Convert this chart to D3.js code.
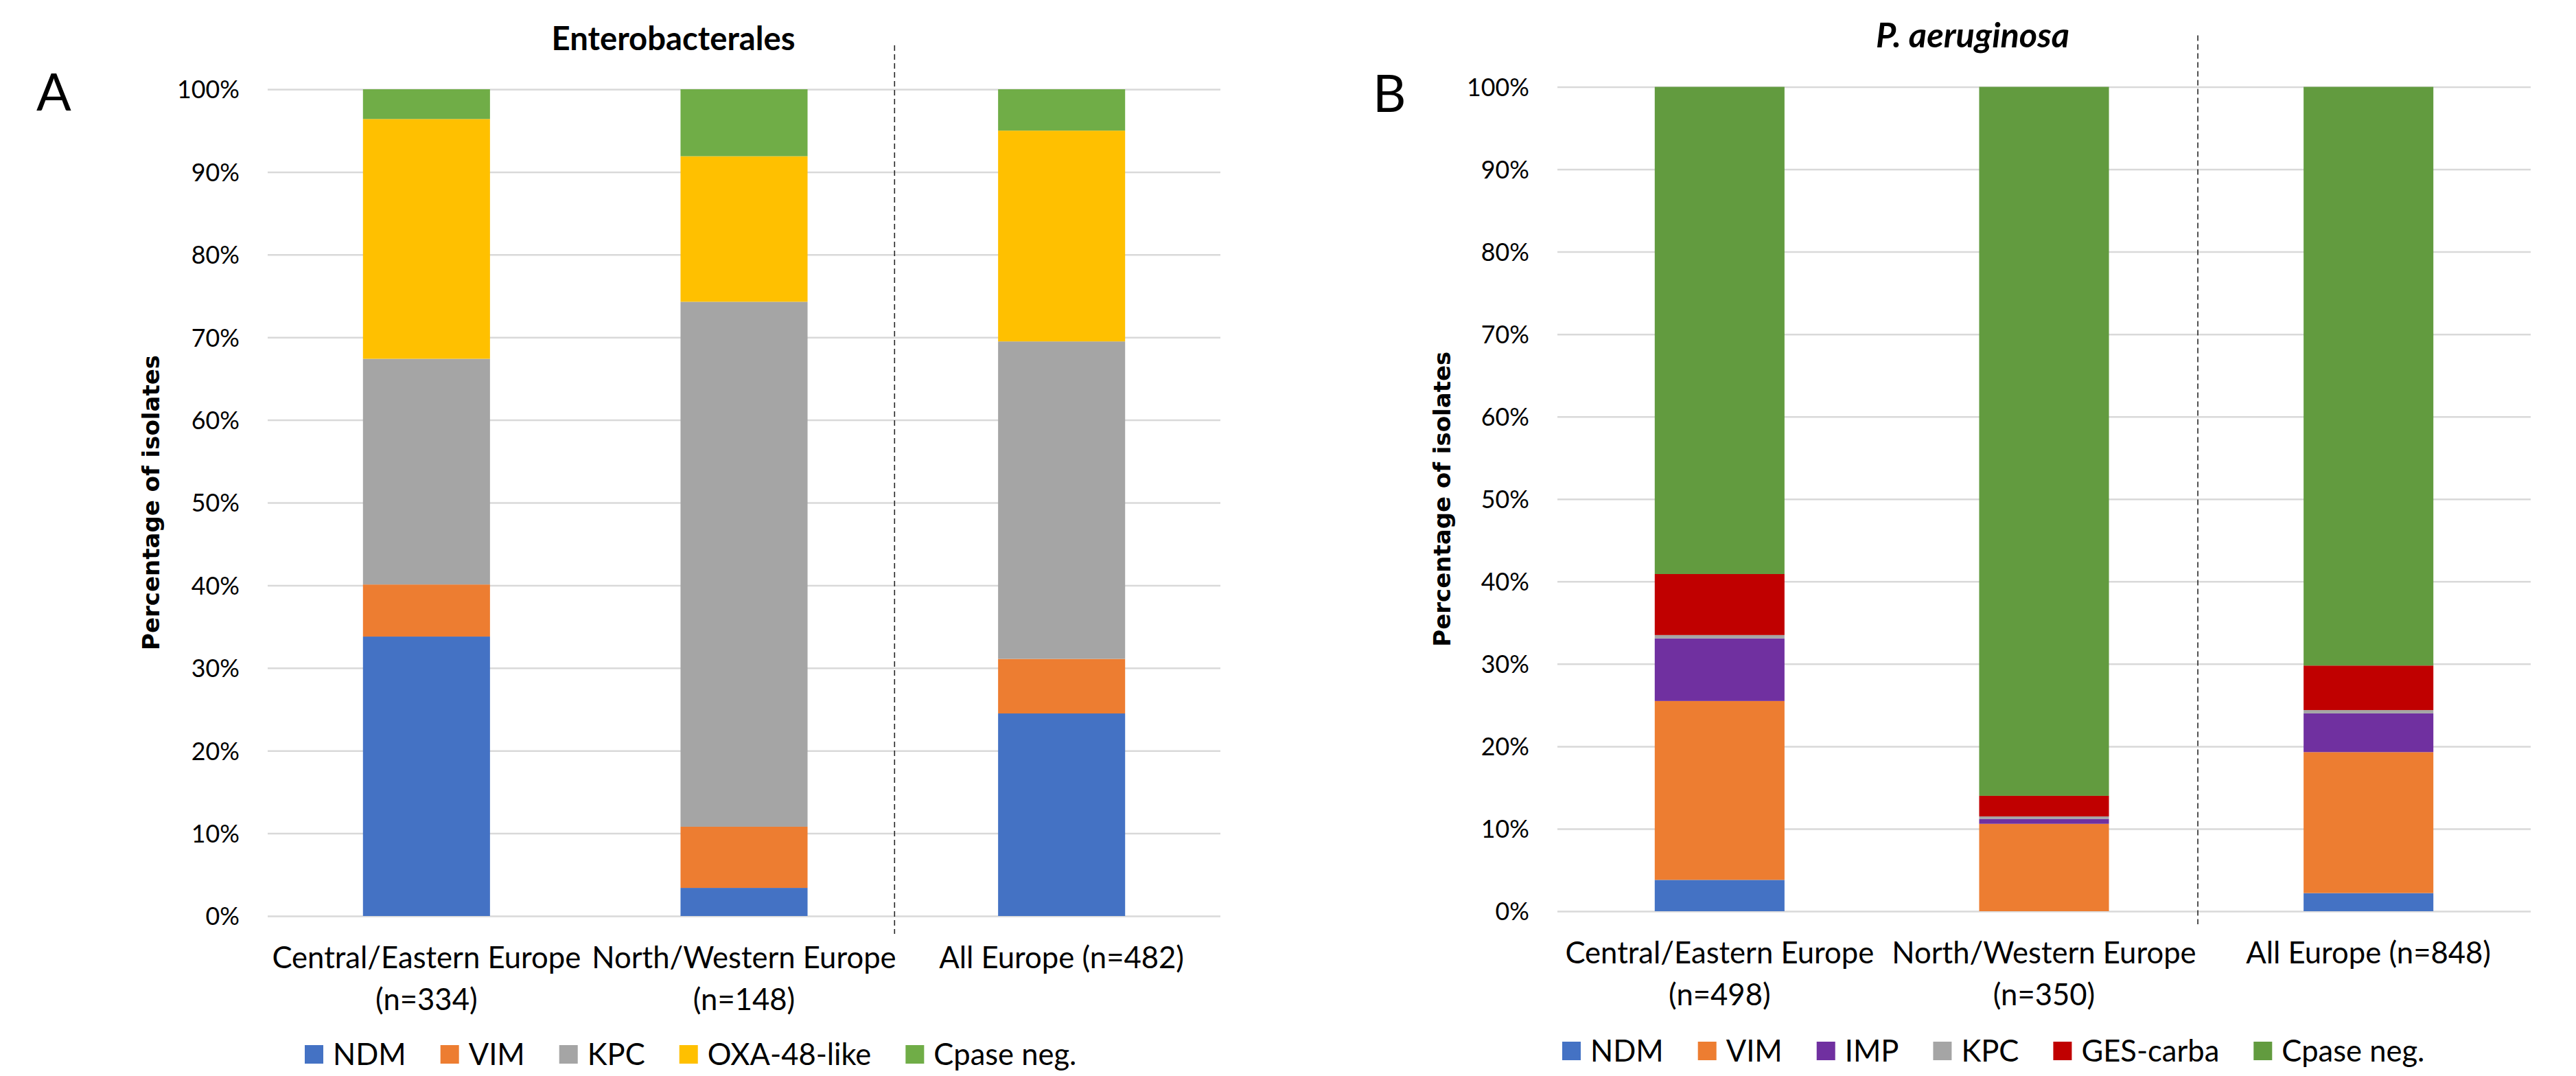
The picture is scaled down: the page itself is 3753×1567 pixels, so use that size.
<!DOCTYPE html>
<html><head><meta charset="utf-8">
<script src="https://cdn.jsdelivr.net/npm/d3@7"></script>
<style>body{margin:0;background:#fff} svg{display:block}</style>
</head><body>
<svg id="chart" width="3753" height="1567"></svg>
<script>
// ---------- DATA ----------
const yTickValues = [0, 10, 20, 30, 40, 50, 60, 70, 80, 90, 100];

// Panel A: Enterobacterales
const categoriesA = [["Central/Eastern Europe", "(n=334)"], ["North/Western Europe", "(n=148)"], ["All Europe (n=482)"]];
const seriesA = ["NDM", "VIM", "KPC", "OXA-48-like", "Cpase neg."];
const ndmA   = [33.8, 3.4, 24.5];
const vimA   = [6.3, 7.4, 6.6];
const kpcA   = [27.3, 63.5, 38.4];
const oxaA   = [29.0, 17.6, 25.5];
const cnegA  = [3.6, 8.1, 5.0];

// Panel B: P. aeruginosa
const categoriesB = [["Central/Eastern Europe", "(n=498)"], ["North/Western Europe", "(n=350)"], ["All Europe (n=848)"]];
const seriesB = ["NDM", "VIM", "IMP", "KPC", "GES-carba", "Cpase neg."];
const ndmB   = [3.8, 0.0, 2.2];
const vimB   = [21.7, 10.6, 17.1];
const impB   = [7.6, 0.6, 4.7];
const kpcB   = [0.4, 0.3, 0.4];
const gesB   = [7.4, 2.5, 5.4];
const cnegB  = [59.1, 86.0, 70.2];

// ---------- DRAW ----------
const svg = d3.select("#chart");
svg.append("rect").attr("width", 3753).attr("height", 1567).attr("fill", "#fff");

const FONT = "Lato, 'Open Sans', sans-serif";

// font size that makes a reference string a given width (substitute for Calibri metrics)
function sizeFor(str, target, weight, style) {
  const t = svg.append("text").attr("font-family", FONT).attr("font-size", 100)
    .attr("font-weight", weight || "normal").attr("font-style", style || "normal").text(str);
  const w = t.node().getComputedTextLength();
  t.remove();
  return 100 * target / w;
}
const tickSize = sizeFor("100%", 91);
const catSize = sizeFor("Central/Eastern Europe", 450);
const legSize = sizeFor("Cpase neg.", 208);

function drawPanel(cfg) {
  const g = svg.append("g");
  const x = d3.scaleBand().domain(d3.range(cfg.categories.length))
    .range([cfg.left, cfg.right]).paddingInner(0.6).paddingOuter(0.3);
  const y = d3.scaleLinear().domain([0, 100]).range([cfg.bottom, cfg.top]);

  // gridlines + tick labels
  const yAxis = d3.axisLeft(y).tickValues(yTickValues)
    .tickSize(-(cfg.right - cfg.left)).tickPadding(41).tickFormat(d => d + "%");
  const ag = g.append("g").attr("transform", `translate(${cfg.left},0)`).call(yAxis);
  ag.select(".domain").remove();
  ag.selectAll(".tick line").attr("stroke", "#D9D9D9").attr("stroke-width", 2.5);
  ag.selectAll(".tick text").attr("font-family", FONT).attr("font-size", tickSize)
    .attr("fill", "#000").attr("dy", "0.36em");

  // stacked bars
  const rows = cfg.categories.map((c, i) => {
    const o = { i };
    cfg.series.forEach((s, j) => { o[s] = cfg.values[j][i]; });
    return o;
  });
  const stacked = d3.stack().keys(cfg.series)(rows);
  g.selectAll("g.layer").data(stacked).join("g").attr("class", "layer")
    .attr("fill", (d, i) => cfg.colors[i])
    .selectAll("rect").data(d => d).join("rect")
    .attr("x", d => x(d.data.i)).attr("width", x.bandwidth())
    .attr("y", d => y(d[1])).attr("height", d => Math.max(0, y(d[0]) - y(d[1])));

  // dashed separator between regional bars and All Europe
  const sepX = (x(1) + x.bandwidth() + x(2)) / 2 - 0.026 * x.step();
  g.append("line").attr("x1", sepX).attr("x2", sepX)
    .attr("y1", y(100) - cfg.sepTop).attr("y2", y(0) + cfg.sepBottom)
    .attr("stroke", "#262626").attr("stroke-width", 1.6).attr("stroke-dasharray", "8,5");

  // category labels
  cfg.categories.forEach((lines, i) => {
    const cx = x(i) + x.bandwidth() / 2;
    const t = g.append("text").attr("font-family", FONT).attr("font-size", catSize)
      .attr("text-anchor", "middle").attr("fill", "#000");
    lines.forEach((ln, k) => {
      t.append("tspan").attr("x", cx).attr("y", y(0) + 76 + k * 61).text(ln);
    });
  });

  // y-axis title
  const ymid = (y(0) + y(100)) / 2;
  g.append("text").attr("transform", `translate(${cfg.axisTitleX},${ymid}) rotate(-90)`)
    .attr("text-anchor", "middle").attr("dominant-baseline", "central")
    .attr("font-family", "'DejaVu Sans', sans-serif").attr("font-weight", "bold")
    .attr("font-size", 34).attr("fill", "#000").text("Percentage of isolates");

  // chart title
  const tStyle = cfg.titleItalic ? "italic" : "normal";
  g.append("text").attr("x", cfg.titleCX).attr("y", cfg.titleY)
    .attr("text-anchor", "middle").attr("font-family", FONT).attr("font-weight", "bold")
    .attr("font-style", tStyle)
    .attr("font-size", sizeFor(cfg.title, cfg.titleW, "bold", tStyle)).attr("fill", "#000").text(cfg.title);

  // panel letter
  g.append("text").attr("x", cfg.letterX).attr("y", cfg.letterY)
    .attr("font-family", FONT).attr("font-size", 75).attr("fill", "#000").text(cfg.letter);

  // legend (flow layout)
  let lx = cfg.legendX;
  cfg.series.forEach((s, i) => {
    g.append("rect").attr("x", lx).attr("y", cfg.legendY).attr("width", 27).attr("height", 27)
      .attr("fill", cfg.colors[i]);
    const t = g.append("text").attr("x", lx + 41).attr("y", cfg.legendY + 29)
      .attr("font-family", FONT).attr("font-size", legSize).attr("fill", "#000").text(s);
    lx = lx + 41 + t.node().getComputedTextLength() + 50;
  });
}

drawPanel({
  categories: categoriesA, series: seriesA,
  values: [ndmA, vimA, kpcA, oxaA, cnegA],
  colors: ["#4472C4", "#ED7D31", "#A5A5A5", "#FFC000", "#70AD47"],
  left: 390, right: 1778, top: 130, bottom: 1334,
  sepTop: 64, sepBottom: 26,
  axisTitleX: 220, title: "Enterobacterales", titleItalic: false, titleY: 73, titleCX: 981, titleW: 355,
  letter: "A", letterX: 53, letterY: 161,
  legendX: 444, legendY: 1522
});

drawPanel({
  categories: categoriesB, series: seriesB,
  values: [ndmB, vimB, impB, kpcB, gesB, cnegB],
  colors: ["#4472C4", "#ED7D31", "#7030A0", "#A5A5A5", "#C00000", "#629B3F"],
  left: 2269, right: 3687, top: 126.5, bottom: 1327,
  sepTop: 75, sepBottom: 19,
  axisTitleX: 2101, title: "P. aeruginosa", titleItalic: true, titleY: 69, titleCX: 2874, titleW: 282,
  letter: "B", letterX: 2000, letterY: 163,
  legendX: 2276, legendY: 1517
});
</script>
</body></html>
